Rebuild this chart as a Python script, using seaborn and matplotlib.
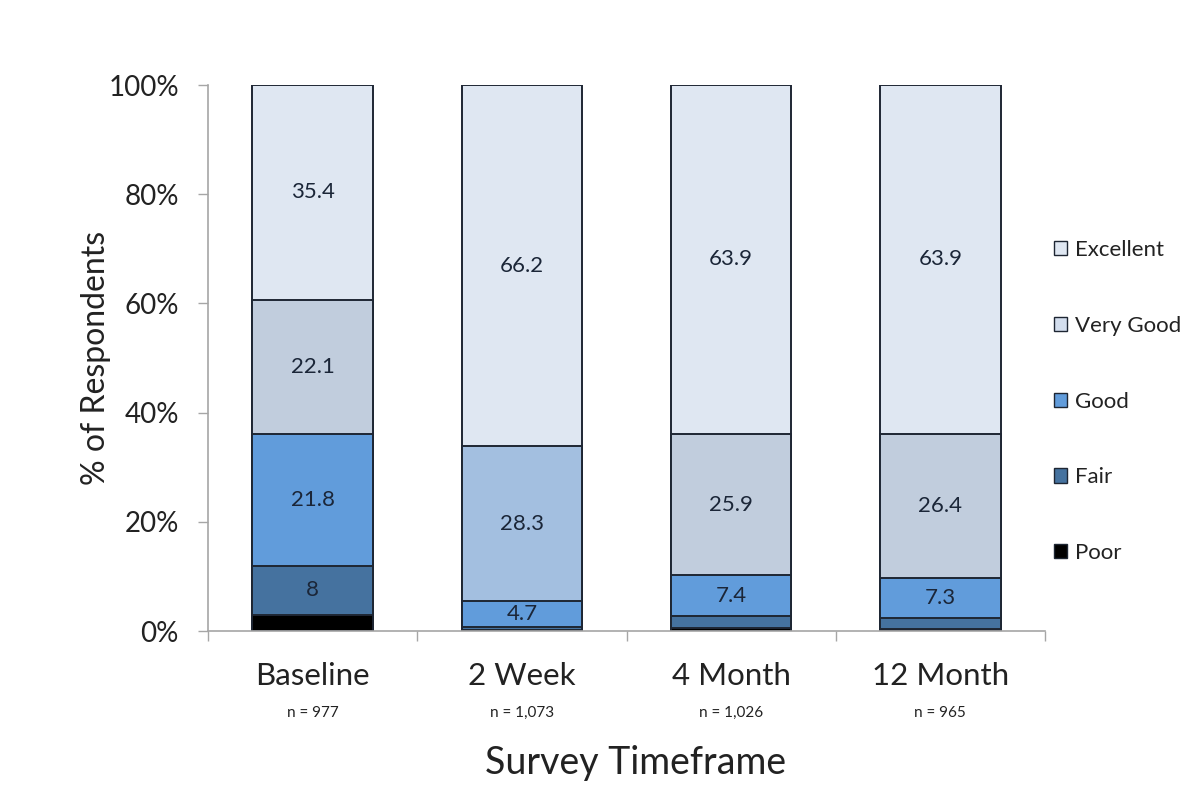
import matplotlib
matplotlib.use("Agg")
import matplotlib.pyplot as plt
from matplotlib.patches import Patch
from matplotlib.ticker import FuncFormatter
import numpy as np
import pandas as pd
import seaborn as sns

# Survey timeframes and sample sizes
timeframes = ["Baseline", "2 Week", "4 Month", "12 Month"]
sample_sizes = ["n = 977", "n = 1,073", "n = 1,026", "n = 965"]

# Self-rated responses per timeframe (as reported)
poor = [2.7, 0.2, 0.5, 0.4]
fair = [8.0, 0.6, 2.3, 2.0]
good = [21.8, 4.7, 7.4, 7.3]
very_good = [22.1, 28.3, 25.9, 26.4]
excellent = [35.4, 66.2, 63.9, 63.9]

categories = ["Poor", "Fair", "Good", "Very Good", "Excellent"]
labelled = {
    "Poor": [False, False, False, False],
    "Fair": [True, False, False, False],
    "Good": [True, True, True, True],
    "Very Good": [True, True, True, True],
    "Excellent": [True, True, True, True],
}

bar_colors = {
    "Poor": ["#000000"] * 4,
    "Fair": ["#45729F"] * 4,
    "Good": ["#619CDB"] * 4,
    "Very Good": ["#C1CDDD", "#A3BFE0", "#C1CDDD", "#C1CDDD"],
    "Excellent": ["#DFE7F2"] * 4,
}
legend_colors = {
    "Excellent": "#DFE7F2",
    "Very Good": "#D3DEEE",
    "Good": "#619CDB",
    "Fair": "#45729F",
    "Poor": "#000000",
}

raw = pd.DataFrame(
    {"Poor": poor, "Fair": fair, "Good": good, "Very Good": very_good, "Excellent": excellent},
    index=timeframes,
)
# Share of each column total, stacked bottom to top
share = raw.div(raw.sum(axis=1), axis=0) * 100
tops = share.cumsum(axis=1)

sns.set_theme(style="white")
plt.rcParams["font.family"] = ["Lato", "DejaVu Sans"]

fig = plt.figure(figsize=(11.84, 7.87), dpi=100)
ax = fig.add_axes([208 / 1184, 1 - 631 / 787, 837 / 1184, 546 / 787])

edge = "#1E2633"
# Draw from the tallest cumulative layer down so each segment shows its band
for cat in reversed(categories):
    df = pd.DataFrame({"timeframe": timeframes, "top": tops[cat].values})
    sns.barplot(
        data=df, x="timeframe", y="top", hue="timeframe",
        palette=bar_colors[cat], order=timeframes, hue_order=timeframes,
        width=0.575, edgecolor=edge, linewidth=1.4, saturation=1,
        legend=False, ax=ax, zorder=2,
    )

# Segment value labels
for cat in categories:
    for i, tf in enumerate(timeframes):
        if not labelled[cat][i]:
            continue
        mid = tops[cat][tf] - share[cat][tf] / 2
        ax.text(i, mid, f"{raw[cat][tf]:g}", ha="center", va="center",
                fontsize=16, color="#1B2638", zorder=5)

ax.set_xlim(-0.5, 3.5)
ax.set_ylim(0, 100)
ax.set_yticks(np.arange(0, 101, 20))
ax.yaxis.set_major_formatter(FuncFormatter(lambda v, p: f"{v:.0f}%"))
ax.tick_params(axis="y", which="major", length=7, width=1, color="#A6A6A6",
               labelsize=20, labelcolor="#222222", direction="out", left=True, pad=14)

ax.set_xticks(range(len(timeframes)))
ax.set_xticklabels(timeframes)
ax.set_xticks(np.arange(-0.5, 3.6, 1), minor=True)
ax.tick_params(axis="x", which="major", length=0, labelsize=22.5, labelcolor="#222222", pad=22)
ax.tick_params(axis="x", which="minor", length=7, width=1, color="#A6A6A6",
               direction="out", bottom=True)

for i, n in enumerate(sample_sizes):
    ax.text(i, -15, n, ha="center", va="center", fontsize=11, color="#222222",
            transform=ax.transData, clip_on=False)

ax.set_xlabel("Survey Timeframe", fontsize=27, color="#222222")
ax.xaxis.set_label_coords(0.5114, -0.242)
ax.xaxis.label.set_verticalalignment("center")
ax.set_ylabel("% of Respondents", fontsize=23, color="#222222", labelpad=-2)

for side in ["top", "right"]:
    ax.spines[side].set_visible(False)
for side in ["left", "bottom"]:
    ax.spines[side].set_color("#A6A6A6")
    ax.spines[side].set_linewidth(1.2)
ax.grid(False)

handles = [Patch(facecolor=legend_colors[c], edgecolor=edge, linewidth=1.0, label=c)
           for c in reversed(categories)]
fig.legend(handles=handles, loc="upper left",
           bbox_to_anchor=(1054 / 1184, 1 - 240 / 787), frameon=False,
           fontsize=16, labelspacing=2.51, handlelength=0.6, handleheight=0.6,
           handletextpad=0.35, borderpad=0, borderaxespad=0, labelcolor="#222222")

fig.savefig("out.png", dpi=100)
